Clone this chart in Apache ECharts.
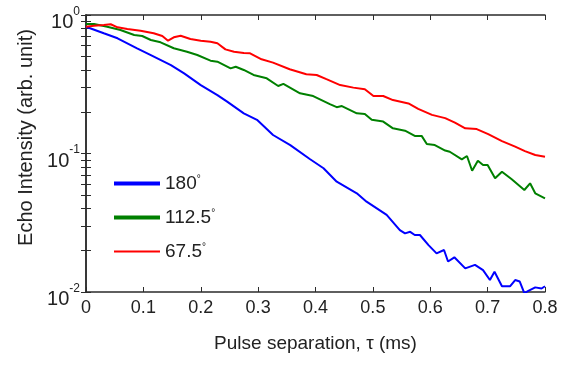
<!DOCTYPE html>
<html>
<head>
<meta charset="utf-8">
<script src="https://cdn.jsdelivr.net/npm/echarts@6/dist/echarts.min.js"></script>
<style>
  html, body { margin: 0; padding: 0; background: #fff; }
  #chart { width: 574px; height: 365px; }
</style>
</head>
<body>
<div id="chart"></div>
<script>
// values (tau in ms, echo in arb. unit)
var tau180 = [0, 0.031, 0.055, 0.089, 0.113, 0.148, 0.171, 0.200, 0.229, 0.246, 0.275, 0.298, 0.326, 0.356, 0.390, 0.414, 0.437, 0.472, 0.489, 0.524, 0.547, 0.556, 0.565, 0.573, 0.582, 0.597, 0.611, 0.624, 0.631, 0.642, 0.661, 0.678, 0.692, 0.704, 0.712, 0.725, 0.739, 0.748, 0.756, 0.764, 0.771, 0.783, 0.794, 0.800]
var echo180 = [0.823, 0.738, 0.679, 0.575, 0.514, 0.435, 0.379, 0.312, 0.264, 0.237, 0.195, 0.175, 0.136, 0.115, 0.0912, 0.0782, 0.0626, 0.0516, 0.0449, 0.0360, 0.0280, 0.0265, 0.0272, 0.0258, 0.0258, 0.0218, 0.0190, 0.0201, 0.0166, 0.0178, 0.0148, 0.0157, 0.0144, 0.0122, 0.0140, 0.0110, 0.0110, 0.0122, 0.0119, 0.0098, 0.0102, 0.0108, 0.0106, 0.0110]

var tau112 = [0, 0.014, 0.037, 0.060, 0.084, 0.098, 0.113, 0.130, 0.153, 0.176, 0.194, 0.217, 0.229, 0.252, 0.261, 0.275, 0.292, 0.315, 0.335, 0.344, 0.373, 0.396, 0.425, 0.437, 0.446, 0.472, 0.486, 0.498, 0.518, 0.535, 0.556, 0.573, 0.585, 0.594, 0.608, 0.626, 0.634, 0.655, 0.664, 0.673, 0.683, 0.692, 0.700, 0.713, 0.725, 0.742, 0.764, 0.774, 0.783, 0.800]
var echo112 = [0.861, 0.861, 0.823, 0.779, 0.717, 0.705, 0.660, 0.635, 0.575, 0.543, 0.514, 0.468, 0.460, 0.412, 0.423, 0.401, 0.369, 0.349, 0.307, 0.318, 0.272, 0.260, 0.227, 0.216, 0.220, 0.195, 0.193, 0.175, 0.170, 0.152, 0.146, 0.134, 0.134, 0.117, 0.115, 0.105, 0.103, 0.0908, 0.0959, 0.0751, 0.0887, 0.0826, 0.0826, 0.0662, 0.0739, 0.0651, 0.0545, 0.0609, 0.0516, 0.0475]

var tau67 = [0, 0.014, 0.031, 0.043, 0.055, 0.072, 0.095, 0.118, 0.133, 0.143, 0.153, 0.165, 0.182, 0.200, 0.217, 0.229, 0.243, 0.258, 0.275, 0.286, 0.306, 0.326, 0.355, 0.384, 0.402, 0.419, 0.443, 0.466, 0.486, 0.501, 0.518, 0.535, 0.562, 0.579, 0.603, 0.626, 0.643, 0.661, 0.681, 0.701, 0.725, 0.748, 0.765, 0.783, 0.800]
var echo67 = [0.823, 0.837, 0.847, 0.857, 0.815, 0.792, 0.770, 0.738, 0.705, 0.652, 0.690, 0.709, 0.671, 0.652, 0.642, 0.625, 0.565, 0.543, 0.532, 0.529, 0.479, 0.453, 0.406, 0.373, 0.369, 0.344, 0.312, 0.299, 0.291, 0.260, 0.260, 0.243, 0.230, 0.210, 0.190, 0.180, 0.167, 0.152, 0.150, 0.138, 0.123, 0.112, 0.104, 0.0976, 0.0948]

var seriesNames = ['180°', '112.5°', '67.5°']
var seriesColors = ['#0000ff', '#008000', '#ff0000']
var xTicks = [0, 0.1, 0.2, 0.3, 0.4, 0.5, 0.6, 0.7, 0.8]
var yMajor = [0.01, 0.1, 1]
var yTicks = [0.01, 0.02, 0.03, 0.04, 0.05, 0.06, 0.07, 0.08, 0.09, 0.1, 0.2, 0.3, 0.4, 0.5, 0.6, 0.7, 0.8, 0.9, 1]

function zip(xs, ys) {
  return xs.map(function (x, i) { return [x, ys[i]] })
}

var axisColor = '#2b2b2b'
var textColor = '#222'
var font = "'Liberation Sans', Arial, sans-serif"

var chart = echarts.init(document.getElementById('chart'))

chart.setOption({
  backgroundColor: '#fff',
  animation: false,
  grid: { left: 86, right: 29, top: 15, bottom: 73 },
  legend: {
    orient: 'vertical',
    left: 114,
    top: 174,
    padding: 0,
    itemWidth: 46,
    itemHeight: 4,
    itemGap: 15,
    itemStyle: { borderWidth: 0 },
    data: [
      { name: seriesNames[0], icon: 'rect' },
      { name: seriesNames[1], icon: 'rect' },
      { name: seriesNames[2], icon: 'path://M0,1H46V3H0Z' }
    ],
    formatter: function (name) {
      return '{n|' + name.replace('°', '') + '}{d|°}'
    },
    textStyle: {
      rich: {
        n: { fontSize: 19, fontFamily: font, color: textColor },
        d: { fontSize: 10, fontFamily: font, color: textColor, verticalAlign: 'top' }
      }
    }
  },
  xAxis: [{
    type: 'value',
    min: 0,
    max: 0.8,
    interval: 0.1,
    name: 'Pulse separation, τ (ms)',
    nameLocation: 'middle',
    nameGap: 42,
    nameTextStyle: { fontSize: 19, fontFamily: font, color: textColor },
    axisLine: { lineStyle: { color: axisColor, width: 1.5 } },
    axisTick: { inside: true, length: 5, lineStyle: { color: axisColor } },
    axisLabel: {
      margin: 7,
      fontSize: 18,
      fontFamily: font,
      color: textColor,
      customValues: xTicks,
      formatter: function (v) { return v === 0 ? '0' : v.toFixed(1) }
    },
    splitLine: { show: false }
  }, {
    type: 'value',
    position: 'top',
    min: 0,
    max: 0.8,
    interval: 0.1,
    axisLine: { lineStyle: { color: axisColor, width: 1.5 } },
    axisTick: { inside: true, length: 5, lineStyle: { color: axisColor } },
    axisLabel: { show: false },
    splitLine: { show: false }
  }],
  yAxis: [{
    type: 'log',
    logBase: 10,
    min: 0.01,
    max: 1,
    name: 'Echo Intensity (arb. unit)',
    nameLocation: 'middle',
    nameGap: 50,
    nameTextStyle: { fontSize: 20, fontFamily: font, color: textColor, padding: [0, 0, 0, 32] },
    axisLine: { show: true, lineStyle: { color: axisColor, width: 1.5 } },
    axisTick: { inside: true, length: 5, customValues: yTicks, lineStyle: { color: axisColor } },
    axisLabel: {
      margin: 6,
      padding: [8, 0, 0, 0],
      customValues: yMajor,
      formatter: function (v) {
        return '{b|10}{s|' + Math.round(Math.log10(v)) + '}'
      },
      rich: {
        b: { fontSize: 20, fontFamily: font, color: textColor, verticalAlign: 'bottom', padding: [7, 0, 0, 0] },
        s: { fontSize: 12, fontFamily: font, color: textColor, verticalAlign: 'top' }
      }
    },
    splitLine: { show: false }
  }, {
    type: 'log',
    logBase: 10,
    min: 0.01,
    max: 1,
    position: 'right',
    axisLine: { show: true, lineStyle: { color: axisColor, width: 1.5 } },
    axisTick: { inside: true, length: 5, customValues: yTicks, lineStyle: { color: axisColor } },
    axisLabel: { show: false },
    splitLine: { show: false }
  }],
  series: [
    { name: seriesNames[0], data: zip(tau180, echo180) },
    { name: seriesNames[1], data: zip(tau112, echo112) },
    { name: seriesNames[2], data: zip(tau67, echo67) }
  ].map(function (s, i) {
    return {
      name: s.name,
      type: 'line',
      xAxisIndex: 0,
      yAxisIndex: 0,
      symbol: 'none',
      showSymbol: false,
      clip: true,
      color: seriesColors[i],
      lineStyle: { width: 2, color: seriesColors[i] },
      data: s.data
    }
  })
})
</script>
</body>
</html>
